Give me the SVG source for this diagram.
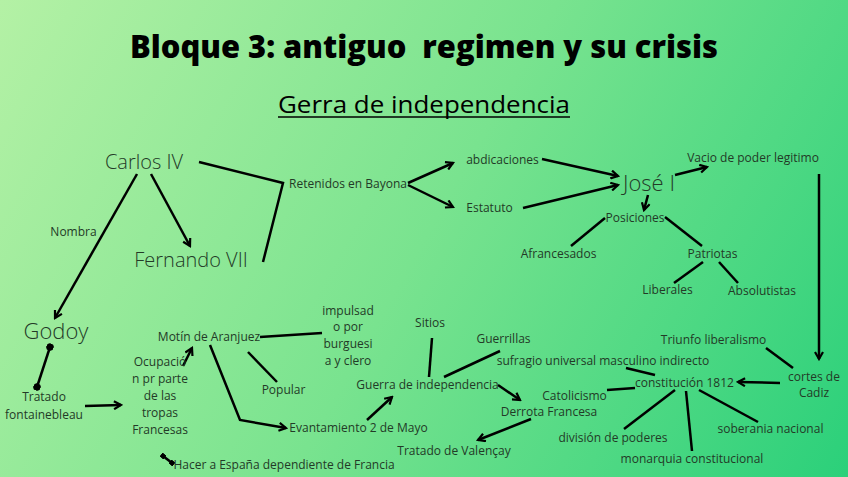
<svg xmlns="http://www.w3.org/2000/svg" width="848" height="477" viewBox="0 0 848 477">
<defs>
<linearGradient id="bg" x1="0" y1="0" x2="848" y2="477" gradientUnits="userSpaceOnUse">
<stop offset="0" stop-color="#b4f1a5"/>
<stop offset="0.5" stop-color="#79e38f"/>
<stop offset="1" stop-color="#2bd07a"/>
</linearGradient>
<marker id="ah" viewBox="0 0 10 10" refX="8" refY="5" markerWidth="4" markerHeight="4" orient="auto" markerUnits="strokeWidth">
<path d="M1,1 L8,5 L1,9" fill="none" stroke="#000" stroke-width="2.2"/>
</marker>
<marker id="dot" viewBox="0 0 10 10" refX="5" refY="5" markerWidth="3" markerHeight="3" orient="auto" markerUnits="strokeWidth">
<circle cx="5" cy="5" r="5" fill="#000"/>
</marker>
<marker id="sq" viewBox="0 0 10 10" refX="5" refY="5" markerWidth="2" markerHeight="2" orient="auto" markerUnits="strokeWidth">
<rect x="0" y="0" width="10" height="10" fill="#000"/>
</marker>
</defs>
<style>
text{font-family:"Open Sans","Liberation Sans",sans-serif;fill:#233a27;}
.s{font-size:12px;text-anchor:middle;}
.b{font-size:20px;font-weight:300;text-anchor:middle;}
.title{font-size:31px;font-weight:800;fill:#000;text-anchor:middle;white-space:pre;}
.sub{font-size:23px;fill:#000;text-anchor:middle;}
.c line,.c polyline{stroke:#000;stroke-width:2.5;fill:none;}
.a{marker-end:url(#ah);}
</style>
<rect x="0" y="0" width="848" height="477" fill="url(#bg)"/>
<text class="title" x="424" y="58" textLength="588" lengthAdjust="spacingAndGlyphs" xml:space="preserve">Bloque 3: antiguo  regimen y su crisis</text>
<text class="sub" x="424" y="113" textLength="292" lengthAdjust="spacingAndGlyphs">Gerra de independencia</text>
<line x1="278" y1="117" x2="570" y2="117" stroke="#000" stroke-width="1.6"/>

<g class="c" id="connectors">
<line class="a" x1="137" y1="174" x2="55" y2="318"/>
<line class="a" x1="151" y1="174" x2="190" y2="246"/>
<polyline points="199,162 283,183 263,262"/>
<line class="a" x1="408" y1="183" x2="453" y2="163"/>
<line class="a" x1="408" y1="185" x2="453" y2="207"/>
<line class="a" x1="542" y1="159" x2="618" y2="176"/>
<line class="a" x1="523" y1="208" x2="618" y2="185"/>
<line class="a" x1="675" y1="175" x2="707" y2="167"/>
<line class="a" x1="648" y1="195" x2="644" y2="210"/>
<line x1="605" y1="218" x2="571" y2="246"/>
<line x1="665" y1="217" x2="702" y2="246"/>
<line x1="703" y1="262" x2="674" y2="283"/>
<line x1="719" y1="262" x2="738" y2="283"/>
<line class="a" x1="819" y1="174" x2="819" y2="359"/>
<line x1="50" y1="347" x2="37" y2="387" marker-start="url(#dot)" marker-end="url(#dot)"/>
<line class="a" x1="85" y1="406" x2="121" y2="405"/>
<line class="a" x1="183" y1="366" x2="192" y2="348"/>
<line x1="260" y1="337" x2="322" y2="333"/>
<line x1="248" y1="352" x2="277" y2="382"/>
<polyline class="a" points="210,345 240,420 286,428"/>
<line class="a" x1="367" y1="420" x2="392" y2="397"/>
<line x1="432" y1="338" x2="429" y2="377"/>
<line x1="500" y1="351" x2="444" y2="377"/>
<line class="a" x1="498" y1="385" x2="520" y2="400"/>
<line class="a" x1="531" y1="419" x2="478" y2="440"/>
<line x1="655" y1="375" x2="626" y2="368"/>
<line x1="635" y1="388" x2="607" y2="390"/>
<line class="a" x1="780" y1="383" x2="738" y2="382"/>
<line x1="766" y1="348" x2="793" y2="368"/>
<line x1="675" y1="390" x2="624" y2="429"/>
<line x1="686" y1="391" x2="692" y2="451"/>
<line x1="699" y1="390" x2="758" y2="422"/>
<line x1="163" y1="456" x2="172" y2="463" marker-start="url(#sq)" marker-end="url(#sq)"/>
</g>

<g id="carlos"><text class="b" x="144" y="169">Carlos IV</text></g>
<g id="fernando"><text class="b" x="191" y="267">Fernando VII</text></g>
<g id="nombra"><text class="s" x="73.5" y="236">Nombra</text></g>
<g id="godoy"><text class="b" x="56" y="339" style="font-size:22px">Godoy</text></g>
<g id="retenidos"><text class="s" x="348" y="188">Retenidos en Bayona</text></g>
<g id="abdicaciones"><text class="s" x="502.5" y="164">abdicaciones</text></g>
<g id="estatuto"><text class="s" x="489.5" y="212">Estatuto</text></g>
<g id="jose"><text class="b" x="649" y="191" style="font-size:22px">José I</text></g>
<g id="vacio"><text class="s" x="753" y="162">Vacio de poder legitimo</text></g>
<g id="posiciones"><text class="s" x="635" y="222">Posiciones</text></g>
<g id="afrancesados"><text class="s" x="558.5" y="258">Afrancesados</text></g>
<g id="patriotas"><text class="s" x="712.5" y="258">Patriotas</text></g>
<g id="liberales"><text class="s" x="667.5" y="294">Liberales</text></g>
<g id="absolutistas"><text class="s" x="762" y="295">Absolutistas</text></g>
<g id="motin"><text class="s" x="209" y="341">Motín de Aranjuez</text></g>
<g id="impulsado"><text class="s" x="348" y="315">impulsad</text><text class="s" x="348" y="331">o por</text><text class="s" x="348" y="348">burguesi</text><text class="s" x="348" y="365">a y clero</text></g>
<g id="sitios"><text class="s" x="430" y="327">Sitios</text></g>
<g id="guerrillas"><text class="s" x="503.5" y="343">Guerrillas</text></g>
<g id="triunfo"><text class="s" x="713.5" y="344">Triunfo liberalismo</text></g>
<g id="sufragio"><text class="s" x="603" y="365">sufragio universal masculino indirecto</text></g>
<g id="cortes"><text class="s" x="814" y="381">cortes de</text><text class="s" x="814" y="397">Cadiz</text></g>
<g id="constitucion"><text class="s" x="684.5" y="387">constitución 1812</text></g>
<g id="guerra"><text class="s" x="427.5" y="389">Guerra de independencia</text></g>
<g id="catolicismo"><text class="s" x="574.5" y="400">Catolicismo</text></g>
<g id="derrota"><text class="s" x="549" y="416">Derrota Francesa</text></g>
<g id="ocupacion"><text class="s" x="160" y="366">Ocupació</text><text class="s" x="160" y="383">n pr parte</text><text class="s" x="160" y="400">de las</text><text class="s" x="160" y="417">tropas</text><text class="s" x="160" y="434">Francesas</text></g>
<g id="tratado"><text class="s" x="44" y="401">Tratado</text><text class="s" x="44" y="419">fontainebleau</text></g>
<g id="popular"><text class="s" x="283.5" y="394">Popular</text></g>
<g id="levantamiento"><text class="s" x="358.5" y="432">Evantamiento 2 de Mayo</text></g>
<g id="valencay"><text class="s" x="454" y="455">Tratado de Valençay</text></g>
<g id="division"><text class="s" x="613" y="442">división de poderes</text></g>
<g id="soberania"><text class="s" x="770.5" y="433">soberania nacional</text></g>
<g id="monarquia"><text class="s" x="692" y="463">monarquia constitucional</text></g>
<g id="hacer"><text class="s" x="284" y="469">Hacer a España dependiente de Francia</text></g>
</svg>
